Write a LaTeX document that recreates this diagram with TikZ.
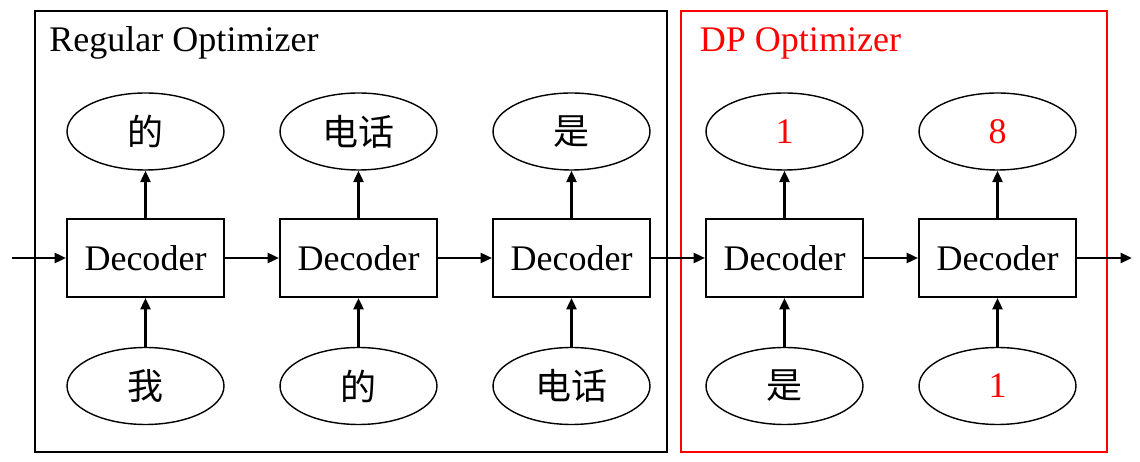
\documentclass[tikz,border=0pt]{standalone}
\usepackage{fontspec}
\setmainfont{Liberation Serif}
\newfontfamily\cjk{Noto Sans CJK SC}
\usepackage{xcolor}
\usepackage{tikz}
\usetikzlibrary{shapes.geometric,arrows.meta,positioning}
\definecolor{cInk}{HTML}{000000}
\definecolor{cDP}{HTML}{FF0000}
\newcommand{\bigtxt}{\fontsize{20.5}{24}\selectfont}
\tikzset{
  frm/.style   = {rectangle, draw=#1, line width=1.1pt, inner sep=0pt,
                  minimum height=8.82cm},
  frm/.default = cInk,
  ttl/.style   = {anchor=base west, inner sep=0pt, font=\bigtxt},
  dec/.style   = {rectangle, draw=cInk, line width=1.1pt, inner sep=0pt,
                  minimum width=3.14cm, minimum height=1.56cm, font=\bigtxt},
  tok/.style   = {ellipse, draw=cInk, line width=0.8pt, inner sep=0pt,
                  minimum width=3.14cm, minimum height=1.54cm, font=\bigtxt\cjk},
  num/.style   = {tok, font=\bigtxt, text=cDP},
  fl/.style    = {-{Triangle[length=2.3mm, width=2mm]}, draw=cInk, line width=1.5pt},
}

\begin{document}
\begin{tikzpicture}[x=0.02cm, y=-0.02cm]
  \useasboundingbox (0,0) rectangle (1140,462);

  \node[frm, minimum width=12.64cm] (reg) at (351,231.5) {};
  \node[frm=cDP, minimum width=8.52cm] (dp) at (894,231.5) {};
  \node[ttl] (regT) at ([shift={(0.3cm,-0.82cm)}]reg.north west) {Regular Optimizer};
  \node[ttl, text=cDP] (dpT) at ([shift={(0.39cm,-0.82cm)}]dp.north west) {DP Optimizer};

  \node[dec] (d1) at (145.5,258) {Decoder};
  \node[dec] (d2) at (358.5,258) {Decoder};
  \node[dec] (d3) at (571.5,258) {Decoder};
  \node[dec] (d4) at (784.5,258) {Decoder};
  \node[dec] (d5) at (997.5,258) {Decoder};

  \node[tok] (t1) at (145.5,131.5) {的};
  \node[tok] (t2) at (358.5,131.5) {电话};
  \node[tok] (t3) at (571.5,131.5) {是};
  \node[num] (t4) at (784.5,131.5) {1};
  \node[num] (t5) at (997.5,131.5) {8};

  \node[tok] (b1) at (145.5,386) {我};
  \node[tok] (b2) at (358.5,386) {的};
  \node[tok] (b3) at (571.5,386) {电话};
  \node[tok] (b4) at (784.5,386) {是};
  \node[num] (b5) at (997.5,386) {1};

  \coordinate (in)  at (12,258);
  \coordinate (out) at (1132,258);

  \draw[fl] (in) -- (d1);
  \foreach \a/\b in {d1/d2,d2/d3,d3/d4,d4/d5}
    \draw[fl] (\a) -- (\b);
  \draw[fl] (d5) -- (out);
  \foreach \i in {1,...,5} {
    \draw[fl] (d\i) -- (t\i);
    \draw[fl] (b\i) -- (d\i);
  }
\end{tikzpicture}
\end{document}
